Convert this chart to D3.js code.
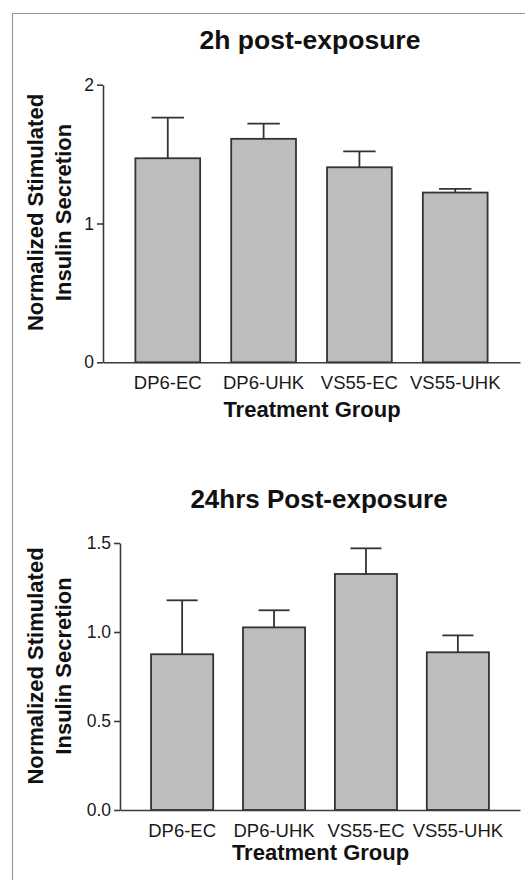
<!DOCTYPE html>
<html>
<head>
<meta charset="utf-8">
<script src="https://cdn.jsdelivr.net/npm/d3@7"></script>
<style>
  body { margin: 0; background: #fff; }
  svg { display: block; font-family: "Liberation Sans", Arial, sans-serif; }
  .domain, .tick line { stroke: #3a3a3a; stroke-width: 1.6; }
  .tick text { fill: #1a1a1a; }
</style>
</head>
<body>
<div id="chart"></div>
<script>
// data
var groups = ["DP6-EC", "DP6-UHK", "VS55-EC", "VS55-UHK"];
var mean2h = [1.47, 1.61, 1.405, 1.223];
var err2h = [0.293, 0.11, 0.115, 0.027];
var mean24h = [0.875, 1.026, 1.326, 0.886];
var err24h = [0.303, 0.096, 0.144, 0.095];
var ticks2h = [0, 1, 2];
var ticks24h = [0, 0.5, 1.0, 1.5];

var width = 525, height = 880;

var svg = d3.select("#chart")
    .append("svg")
    .attr("width", width)
    .attr("height", height);

// grey frame (left + top edge visible)
svg.append("path")
    .attr("d", "M12.5,880 V13.5 H525")
    .attr("fill", "none")
    .attr("stroke", "#9a9a9a")
    .attr("stroke-width", 1.2);

function drawPanel(p) {
    var x = d3.scaleBand()
        .domain(groups)
        .range([p.x0, p.x1])
        .paddingInner(0.324)
        .paddingOuter(0.338);

    var y = d3.scaleLinear()
        .domain([0, p.yMax])
        .range([p.y0, p.y1]);

    var g = svg.append("g");

    // bars
    g.selectAll(".bar")
        .data(groups)
        .enter()
        .append("rect")
        .attr("x", d => x(d))
        .attr("y", (d, i) => y(p.means[i]))
        .attr("width", x.bandwidth())
        .attr("height", (d, i) => y(0) - y(p.means[i]))
        .attr("fill", "#bdbdbd")
        .attr("stroke", "#333")
        .attr("stroke-width", 1.8);

    // error bars (upper only)
    var capW = x.bandwidth() * 0.5;
    g.selectAll(".stem")
        .data(groups)
        .enter()
        .append("line")
        .attr("x1", d => x(d) + x.bandwidth() / 2)
        .attr("x2", d => x(d) + x.bandwidth() / 2)
        .attr("y1", (d, i) => y(p.means[i]))
        .attr("y2", (d, i) => y(p.means[i] + p.errs[i]))
        .attr("stroke", "#333")
        .attr("stroke-width", 1.8);
    g.selectAll(".cap")
        .data(groups)
        .enter()
        .append("line")
        .attr("x1", d => x(d) + x.bandwidth() / 2 - capW / 2)
        .attr("x2", d => x(d) + x.bandwidth() / 2 + capW / 2)
        .attr("y1", (d, i) => y(p.means[i] + p.errs[i]))
        .attr("y2", (d, i) => y(p.means[i] + p.errs[i]))
        .attr("stroke", "#333")
        .attr("stroke-width", 1.8);

    // axes
    var leftAxis = d3.axisLeft(y)
        .tickValues(p.ticks)
        .tickFormat(p.fmt)
        .tickSize(6)
        .tickSizeOuter(0)
        .tickPadding(3);
    g.append("g")
        .attr("transform", `translate(${p.x0}, 0)`)
        .call(leftAxis)
        .attr("font-family", null)
        .call(a => a.selectAll("text").style("font-size", "17.5px"));

    var bottomAxis = d3.axisBottom(x)
        .tickSize(0)
        .tickSizeOuter(0)
        .tickPadding(14);
    g.append("g")
        .attr("transform", `translate(0, ${p.y0})`)
        .call(bottomAxis)
        .attr("font-family", null)
        .call(a => a.selectAll("text").style("font-size", "18.5px"));

    // title
    g.append("text")
        .attr("x", p.titleX)
        .attr("y", p.titleY)
        .attr("text-anchor", "middle")
        .style("font-size", p.titleSize + "px")
        .style("font-weight", "bold")
        .attr("fill", "#111")
        .text(p.title);

    // x label
    g.append("text")
        .attr("x", p.xLabX)
        .attr("y", p.xLabY)
        .attr("text-anchor", "middle")
        .style("font-size", "22px")
        .style("font-weight", "bold")
        .attr("fill", "#111")
        .text("Treatment Group");

    // y label (two lines)
    var yl = g.append("text")
        .attr("transform", `rotate(-90)`)
        .attr("text-anchor", "middle")
        .style("font-size", "22px")
        .style("font-weight", "bold")
        .attr("fill", "#111");
    yl.append("tspan")
        .attr("x", -p.yLabY)
        .attr("y", 43)
        .text("Normalized Stimulated");
    yl.append("tspan")
        .attr("x", -p.yLabY)
        .attr("y", 71)
        .text("Insulin Secretion");
}

drawPanel({
    means: mean2h, errs: err2h, ticks: ticks2h, fmt: d3.format("d"),
    yMax: 2, x0: 103, x1: 520, y0: 362.3, y1: 84.7,
    title: "2h post-exposure", titleX: 310, titleY: 48.5, titleSize: 26.5,
    xLabX: 312, xLabY: 416.5, yLabY: 212.5
});

drawPanel({
    means: mean24h, errs: err24h, ticks: ticks24h, fmt: d3.format(".1f"),
    yMax: 1.5, x0: 120, x1: 520, y0: 810, y1: 543,
    title: "24hrs Post-exposure", titleX: 319, titleY: 508, titleSize: 26,
    xLabX: 320.5, xLabY: 860, yLabY: 666
});
</script>
</body>
</html>
